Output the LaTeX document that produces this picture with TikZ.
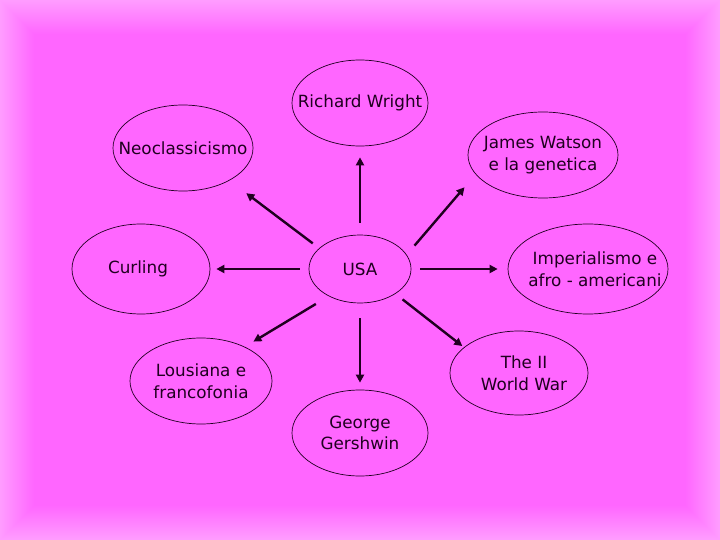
\documentclass[tikz,border=0pt]{standalone}
\usepackage{fontspec}
\setmainfont{DejaVu Sans}
\usetikzlibrary{shapes.geometric,arrows.meta}
\definecolor{bgD}{HTML}{FF66FF}
\definecolor{bgL}{HTML}{FF9CFF}
\definecolor{ink}{HTML}{200020}
\tikzset{
  topic/.style={ellipse,draw=ink,line width=0.7pt,fill=bgD,inner sep=0pt},
  txt/.style={text=ink,align=center,font=\fontsize{16.8}{21.5}\selectfont},
  link/.style={draw=ink,line width=2.4pt,-{Triangle[length=8pt,width=8pt]}}
}
\begin{document}
\begin{tikzpicture}[x=1pt,y=-1pt]
\useasboundingbox (0,0) rectangle (720,540);
% background with soft lighter border
\foreach \i in {0,...,34}{
  \pgfmathtruncatemacro{\pc}{100*\i/34}
  \fill[bgD!\pc!bgL] (\i,\i) rectangle (720-\i,540-\i);
}
% nodes
\node[topic,minimum width=136pt,minimum height=86pt,label={[txt]center:Richard Wright}] (rw) at (360,103) {};
\node[topic,minimum width=140pt,minimum height=86pt,label={[txt]center:Neoclassicismo}] (neo) at (183,148) {};
\node[topic,minimum width=150pt,minimum height=86pt,label={[txt]center:James Watson\\e la genetica}] (jw) at (543,155) {};
\node[topic,minimum width=138pt,minimum height=90pt,label={[txt,xshift=-3pt]center:Curling}] (cur) at (141,269) {};
\node[topic,minimum width=102pt,minimum height=68pt,label={[txt]center:USA}] (usa) at (360,269) {};
\node[topic,minimum width=160pt,minimum height=90pt,label={[txt,xshift=7pt]center:Imperialismo e\\afro - americani}] (imp) at (588,269) {};
\node[topic,minimum width=142pt,minimum height=86pt,label={[txt]center:Lousiana e\\francofonia}] (lou) at (201,381) {};
\node[topic,minimum width=138pt,minimum height=84pt,label={[txt,xshift=5pt]center:The II\\World War}] (ww) at (519,373) {};
\node[topic,minimum width=136pt,minimum height=86pt,label={[txt]center:George\\Gershwin}] (gg) at (360,433) {};
% connectors
\draw[link,shorten <=12pt,shorten >=11pt] (usa.90) -- (rw.270);
\draw[link,shorten <=15pt,shorten >=7pt] (usa.270) -- (gg.90);
\draw[link,shorten <=9pt,shorten >=6pt] (usa.180) -- (cur.0);
\draw[link,shorten <=9pt,shorten >=10pt] (usa.0) -- (imp.180);
\draw[link,shorten <=8pt,shorten >=21pt] (usa.153) -- (neo.-35);
\draw[link,shorten <=12pt,shorten >=17pt] (usa.17) -- (jw.196);
\draw[link,shorten <=15pt,shorten >=10pt] (usa.221) -- (lou.38);
\draw[link,shorten <=9pt,shorten >=2pt] (usa.325) -- (ww.155);
\end{tikzpicture}
\end{document}
